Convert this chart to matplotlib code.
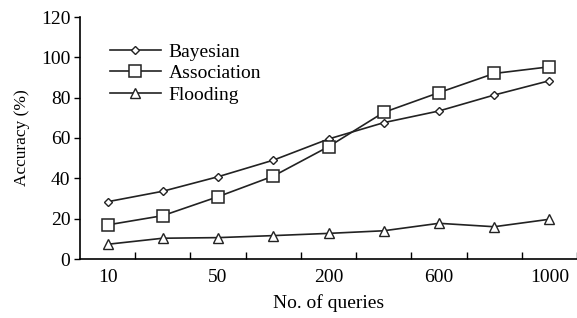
import numpy as np
import matplotlib
matplotlib.use('Agg')
import matplotlib.pyplot as plt

plt.rcParams['font.family'] = 'Liberation Serif'

# data
queries = ['10', '', '50', '', '200', '', '600', '', '1000']
bayesian = [28.4, 33.6, 40.8, 49.0, 59.5, 67.6, 73.4, 81.3, 88.4]
association = [16.9, 21.5, 30.9, 41.1, 55.7, 72.7, 82.5, 92.0, 95.3]
flooding = [7.3, 10.3, 10.6, 11.6, 12.7, 14.0, 17.7, 16.0, 19.7]

fig = plt.figure(figsize=(5.77, 3.18), dpi=100)
ax = fig.add_axes([80/577, 59/318, 497/577, 242/318])

x = np.arange(len(queries))
ax.plot(x, bayesian, color='#222222', lw=1.2, marker='D', ms=4.5,
        mfc='white', mec='#222222', mew=1.0, label='Bayesian')
ax.plot(x, association, color='#222222', lw=1.2, marker='s', ms=9,
        mfc='white', mec='#222222', mew=1.1, label='Association')
ax.plot(x, flooding, color='#222222', lw=1.2, marker='^', ms=6.5,
        mfc='white', mec='#222222', mew=1.0, label='Flooding')

ax.set_xlim(-0.5, len(queries) - 0.5)
ax.set_ylim(0, 120)
ax.set_yticks(np.arange(0, 121, 20))
ax.set_xticks(x)
ax.set_xticklabels(queries)
ax.set_xticks(np.arange(0.5, len(queries) - 0.5 + 0.01, 1), minor=True)
ax.tick_params(axis='x', which='major', length=0, pad=7, labelsize=14)
ax.tick_params(axis='x', which='minor', direction='in', length=5, width=1)
ax.tick_params(axis='y', direction='out', length=4, width=1, labelsize=14, pad=3)

for s in ['top', 'right']:
    ax.spines[s].set_visible(False)
for s in ['left', 'bottom']:
    ax.spines[s].set_linewidth(1.2)

ax.set_xlabel('No. of queries', fontsize=14, labelpad=6)
ax.set_ylabel('Accuracy (%)', fontsize=12.5, labelpad=8)

ax.legend(loc='upper left', bbox_to_anchor=(0.045, 0.925), frameon=False,
          fontsize=14, handlelength=2.6, labelspacing=0.2, handletextpad=0.4,
          borderaxespad=0)

fig.savefig('out.png', dpi=100)
